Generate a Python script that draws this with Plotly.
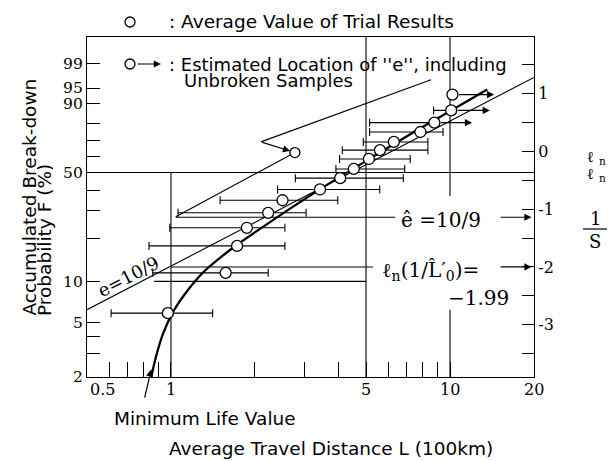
import math
import plotly.graph_objects as go

# ---------------- data ----------------
# average value of trial results: travel distance L (100 km) vs accumulated break-down probability F (%)
point_L = [0.975, 1.57, 1.725, 1.87, 2.23, 2.51, 3.42, 4.04, 4.52, 5.12, 5.61, 6.29, 7.83, 8.79, 10.1, 10.2]
point_F = [5.9, 11.5, 17.7, 23.4, 29.2, 34.9, 40.4, 46.7, 52.2, 58.4, 64.0, 69.2, 75.3, 80.7, 86.9, 93.1]
# spread of every trial (shortest / longest distance)
bar_lo = [0.61, 0.86, 0.834, 0.99, 1.06, 1.50, 2.41, 2.79, 3.90, 4.02, 4.11, 4.89, 5.15, 5.15, 8.73, None]
bar_hi = [1.41, 2.23, 2.56, 2.56, 3.05, 3.96, 5.60, 6.80, 6.88, 7.20, 8.33, 8.33, 9.44, None, None, None]
# unbroken samples: estimated location drawn with arrows
arrow_idx = [13, 14, 15]
arrow_to = [12.0, 13.9, 14.4]

# fitted curve (ln ln 1/S scale)
curve_L = [0.85, 0.884, 0.936, 1.017, 1.15, 1.30, 1.51, 1.72, 2.13, 2.73, 3.43, 5.10, 7.82, 10.2, 13.6]
curve_v = [-3.90, -3.55, -3.16, -2.78, -2.40, -2.10, -1.83, -1.62, -1.31, -0.96, -0.65, -0.14, 0.40, 0.72, 1.07]

# straight line e = 10/9
lineA_L = [0.5, 20]
lineA_v = [-2.74, 1.28]
# parallel line through the estimated location of e
lineB_L = [1.04, 2.78]
lineB_v = [-1.13, -0.02]
pivot_L = [2.78]
pivot_v = [-0.02]
# read-off levels
e_level = -1.14
e_line_L = [1.04, 6.36]
ln_level = -2.0
ln_line_L = [1.0, 5.3]
f10_line_L = [0.87, 5.0]
read_arrow_L = [15.0, 19.6]
min_life = 0.85
# pointer from the legend text
leader_L = [8.55, 2.10]
leader_v = [1.24, 0.165]

# axes
F_major = [99, 95, 90, 50, 10, 5, 2]
F_major_txt = ["99", "95", "90", "50", "10", "5", "2"]
F_minor = [80, 70, 60, 40, 30, 20, 4, 3]
x_major = [0.5, 1, 5, 10, 20]
x_major_txt = ["0.5", "1", "5", "10", "20"]
x_minor = [0.6, 0.7, 0.8, 0.9, 2, 3, 4, 6, 7, 8, 9]
r_major = [2, 1, 0, -1, -2, -3]
r_major_txt = ["2", "1", "0", "-1", "-2", "-3"]
r_minor = [1.5, 0.5, -0.5, -1.5, -2.5, -3.5]

Y_LO, Y_HI = -3.905, 1.98


def wb(F):
    return [math.log(-math.log(1 - f / 100.0)) for f in F]


SANS = "DejaVu Sans"
SERIF = "DejaVu Serif"
BLK = "black"

# plot area in pixels (for text placement)
L0, R0, T0, B0 = 87, 534, 37, 377


def PX(x):
    return (x - L0) / (R0 - L0)


def PY(y):
    return (B0 - y) / (B0 - T0)


fig = go.Figure()


def seg(xs, ys, w=1.1, yaxis="y"):
    fig.add_trace(go.Scatter(x=xs, y=ys, mode="lines", line=dict(color=BLK, width=w),
                             hoverinfo="skip", showlegend=False, yaxis=yaxis))


v50 = wb([50])[0]
v10 = wb([10])[0]
# reference lines
seg([1, 1], [v50, Y_LO])
seg([5, 5], [Y_HI, Y_LO])
seg([10, 10], [Y_HI, -0.77])
seg([10, 10], [-2.74, Y_LO])
seg([0.5, 20], [v50, v50])
seg(f10_line_L, [v10, v10])
# estimation lines
seg(lineA_L, lineA_v)
seg(lineB_L, lineB_v)
seg(e_line_L, [e_level, e_level])
seg(ln_line_L, [ln_level, ln_level])
seg(leader_L, leader_v)
# fitted curve
fig.add_trace(go.Scatter(x=curve_L, y=curve_v, mode="lines",
                         line=dict(color=BLK, width=2.3, shape="spline", smoothing=0.8),
                         hoverinfo="skip", showlegend=False))

err_plus = [(h - p) if h is not None else 0 for h, p in zip(bar_hi, point_L)]
err_minus = [(p - l) if l is not None else 0 for l, p in zip(bar_lo, point_L)]
fig.add_trace(go.Scatter(
    x=point_L, y=wb(point_F), mode="markers",
    marker=dict(symbol="circle", size=11, color="white", line=dict(color=BLK, width=1.3)),
    error_x=dict(type="data", symmetric=False, array=err_plus, arrayminus=err_minus,
                 color=BLK, thickness=1.1, width=4),
    hoverinfo="skip", showlegend=False))
fig.add_trace(go.Scatter(
    x=pivot_L, y=pivot_v, mode="markers",
    marker=dict(symbol="circle", size=10, color="white", line=dict(color=BLK, width=1.3)),
    hoverinfo="skip", showlegend=False))
# right axis carrier
fig.add_trace(go.Scatter(x=[1], y=[0], mode="markers", marker=dict(opacity=0),
                         yaxis="y2", hoverinfo="skip", showlegend=False))

ann = []


def arrow_data(x_tip, y_tip, x_tail, y_tail, standoff=0):
    ann.append(dict(x=math.log10(x_tip), y=y_tip, xref="x", yref="y",
                    ax=math.log10(x_tail), ay=y_tail, axref="x", ayref="y",
                    text="", showarrow=True, arrowhead=2, arrowsize=1.2, arrowwidth=1.2,
                    arrowcolor=BLK, startstandoff=standoff, standoff=0))


Fv = wb(point_F)
for i, t in zip(arrow_idx, arrow_to):
    arrow_data(t, Fv[i], point_L[i], Fv[i], standoff=5)
arrow_data(read_arrow_L[1], e_level, read_arrow_L[0], e_level)
arrow_data(read_arrow_L[1], ln_level, read_arrow_L[0], ln_level)
# pointer to the estimated location
ann.append(dict(x=math.log10(pivot_L[0]), y=pivot_v[0], xref="x", yref="y",
                ax=math.log10(leader_L[1]), ay=leader_v[1], axref="x", ayref="y",
                text="", showarrow=True, arrowhead=2, arrowsize=1.2, arrowwidth=1.2,
                arrowcolor=BLK, standoff=5))
# minimum life arrow
ann.append(dict(x=math.log10(min_life), y=-3.77, xref="x", yref="y", ax=-7, ay=30,
                text="", showarrow=True, arrowhead=2, arrowsize=1.2, arrowwidth=1.2, arrowcolor=BLK))

# x tick labels
for v, t in zip(x_major, x_major_txt):
    ann.append(dict(x=math.log10(v), y=0, xref="x", yref="paper", text=t, showarrow=False,
                    xanchor="left" if v == x_major[0] else "center", yanchor="top",
                    xshift=1 if v == x_major[0] else 0, yshift=-1,
                    font=dict(family=SERIF, size=16, color=BLK)))


def txt(x, y, s, size=18.5, family=SANS, xanchor="center", yanchor="middle", angle=0):
    ann.append(dict(x=PX(x), y=PY(y), xref="paper", yref="paper", text=s, showarrow=False,
                    xanchor=xanchor, yanchor=yanchor, textangle=angle,
                    font=dict(family=family, size=size, color=BLK)))


txt(167, 22, ": Average Value of Trial Results", xanchor="left")
txt(167, 64, ": Estimated Location of ''e'', including", size=18, xanchor="left")
txt(182, 80, "Unbroken Samples", size=18, xanchor="left")
txt(331, 449, "Average Travel Distance L (100km)")
txt(29, 318, "Accumulated Break-down", yanchor="bottom", angle=-90)
txt(44, 318, "Probability F (%)", yanchor="bottom", angle=-90)
txt(205, 418, "Minimum Life Value")
txt(441, 220, "\u00ea =10/9", size=20, family=SERIF)
txt(430, 271, "\u2113<sub>n</sub>(1/L\u0302\u2032<sub>0</sub>)=", size=20, family=SERIF)
txt(478, 298, "\u22121.99", size=20, family=SERIF)
txt(128, 276, "e=10/9", size=18, family=SERIF, angle=-27.5)
txt(596, 157, "\u2113 <sub>n</sub>", size=15, family=SERIF)
txt(596, 174, "\u2113 <sub>n</sub>", size=15, family=SERIF)
txt(595, 218, "1", size=18, family=SERIF)
txt(595, 241, "S", size=18, family=SERIF)

# legend symbol arrow
ann.append(dict(x=PX(161), y=PY(64), xref="paper", yref="paper", ax=-25, ay=0, text="",
                showarrow=True, arrowhead=2, arrowsize=1.2, arrowwidth=1.2, arrowcolor=BLK))

shapes = [
    dict(type="circle", xref="paper", yref="paper", x0=PX(125), x1=PX(135), y0=PY(27), y1=PY(17),
         line=dict(color=BLK, width=1.3), fillcolor="white"),
    dict(type="circle", xref="paper", yref="paper", x0=PX(125), x1=PX(135), y0=PY(69), y1=PY(59),
         line=dict(color=BLK, width=1.3), fillcolor="white"),
    dict(type="line", xref="paper", yref="paper", x0=PX(583), x1=PX(607), y0=PY(229), y1=PY(229),
         line=dict(color=BLK, width=1.2)),
]

tick_style = dict(ticks="inside", tickwidth=1.1, tickcolor=BLK)

fig.update_layout(
    width=614, height=461,
    margin=dict(l=L0, r=614 - R0, t=T0, b=461 - B0),
    paper_bgcolor="white", plot_bgcolor="white",
    showlegend=False,
    xaxis=dict(type="log", range=[math.log10(0.5), math.log10(20)], tickvals=x_major,
               showticklabels=False, ticklen=15, **tick_style,
               minor=dict(tickvals=x_minor, ticklen=15, showgrid=False, **tick_style),
               showline=True, linecolor=BLK, linewidth=1.3, mirror=True,
               showgrid=False, zeroline=False),
    yaxis=dict(range=[Y_LO, Y_HI], tickvals=wb(F_major), ticktext=F_major_txt, ticklen=13,
               **tick_style,
               minor=dict(tickvals=wb(F_minor), ticklen=13, showgrid=False, **tick_style),
               showline=True, linecolor=BLK, linewidth=1.3, showgrid=False, zeroline=False,
               tickfont=dict(family=SERIF, size=15.5, color=BLK)),
    yaxis2=dict(range=[Y_LO, Y_HI], overlaying="y", side="right", tickvals=r_major,
                ticktext=r_major_txt, ticklen=12, **tick_style,
                minor=dict(tickvals=r_minor, ticklen=12, showgrid=False, **tick_style),
                showline=True, linecolor=BLK, linewidth=1.3, showgrid=False, zeroline=False,
                tickfont=dict(family=SERIF, size=16, color=BLK)),
    annotations=ann,
    shapes=shapes,
)

fig.write_html("out.html", config={"displayModeBar": False},
               post_script="document.body.style.margin='0px';document.body.style.overflow='hidden';")
